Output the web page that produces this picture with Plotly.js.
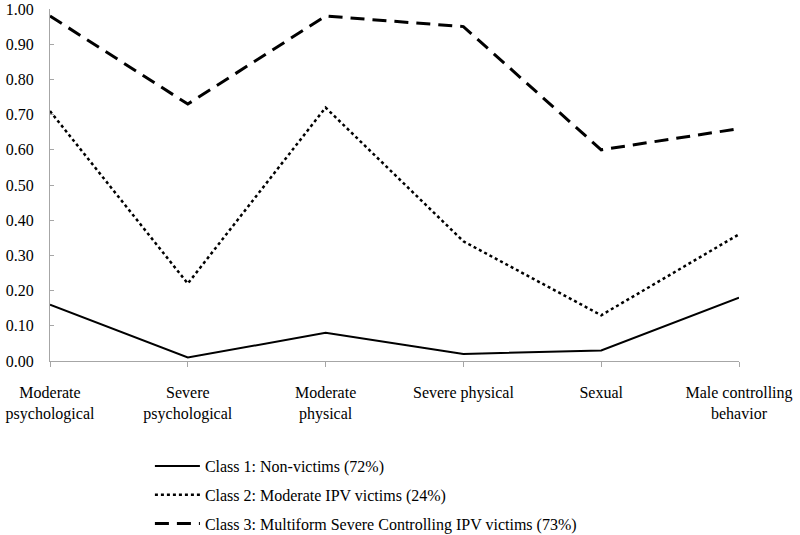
<!DOCTYPE html>
<html>
<head>
<meta charset="utf-8">
<script src="https://cdn.plot.ly/plotly-3.0.1.min.js"></script>
<style>
  html, body { margin: 0; padding: 0; background: #fff; }
  #plot { width: 800px; height: 535px; }
</style>
</head>
<body>
<div id="plot"></div>
<script>
// Categories (x axis)
const categories = [
  "Moderate<br>psychological",
  "Severe<br>psychological",
  "Moderate<br>physical",
  "Severe physical",
  "Sexual",
  "Male controlling<br>behavior"
];

// Y tick values and labels
const yTicks = [0, 0.1, 0.2, 0.3, 0.4, 0.5, 0.6, 0.7, 0.8, 0.9, 1.0];
const yTickText = ["0.00", "0.10", "0.20", "0.30", "0.40", "0.50", "0.60", "0.70", "0.80", "0.90", "1.00"];

// Series values
const class1 = [0.16, 0.01, 0.08, 0.02, 0.03, 0.18];
const class2 = [0.71, 0.22, 0.72, 0.34, 0.13, 0.36];
const class3 = [0.98, 0.73, 0.98, 0.95, 0.60, 0.66];

const names = [
  "Class 1: Non-victims (72%)",
  "Class 2: Moderate IPV victims (24%)",
  "Class 3: Multiform Severe Controlling IPV victims (73%)"
];

const xIdx = categories.map((c, i) => i);
const mkFont = () => ({ family: "Liberation Serif", size: 16, color: "#000" });

const data = [
  {
    x: xIdx, y: class1, type: "scatter", mode: "lines", name: names[0],
    legendgroup: "g1",
    line: { color: "#000", width: 2, dash: "solid" }
  },
  {
    x: xIdx, y: class2, type: "scatter", mode: "lines", name: names[1],
    legendgroup: "g2",
    line: { color: "#000", width: 2.5, dash: "dot" }
  },
  {
    x: xIdx, y: class3, type: "scatter", mode: "lines", name: names[2],
    legendgroup: "g3",
    line: { color: "#000", width: 3, dash: "14px,8px" }
  }
];

const layout = {
  width: 800,
  height: 535,
  margin: { l: 50, r: 61, t: 9, b: 174, autoexpand: false },
  paper_bgcolor: "#fff",
  plot_bgcolor: "#fff",
  font: mkFont(),
  showlegend: true,
  legend: {
    x: 0.145, y: -0.25, xanchor: "left", yanchor: "top",
    orientation: "v",
    traceorder: "grouped",
    tracegroupgap: 5,
    itemwidth: 45,
    font: mkFont(),
    bgcolor: "rgba(0,0,0,0)"
  },
  xaxis: {
    range: [0, 5],
    tickmode: "array",
    tickvals: xIdx,
    ticktext: categories,
    showgrid: false,
    zeroline: false,
    showline: true,
    linecolor: "#a6a6a6",
    linewidth: 1,
    ticks: "outside",
    ticklen: 5,
    tickcolor: "#a6a6a6",
    ticklabelstandoff: 12,
    ticklabeloverflow: "allow",
    tickfont: mkFont()
  },
  yaxis: {
    range: [0, 1],
    tickmode: "array",
    tickvals: yTicks,
    ticktext: yTickText,
    showgrid: false,
    zeroline: false,
    showline: true,
    linecolor: "#a6a6a6",
    linewidth: 1,
    ticks: "inside",
    ticklen: 4,
    tickcolor: "#a6a6a6",
    ticklabelstandoff: 12,
    ticklabeloverflow: "allow",
    tickfont: mkFont()
  }
};

Plotly.newPlot("plot", data, layout, { displayModeBar: false, staticPlot: true });
</script>
</body>
</html>
